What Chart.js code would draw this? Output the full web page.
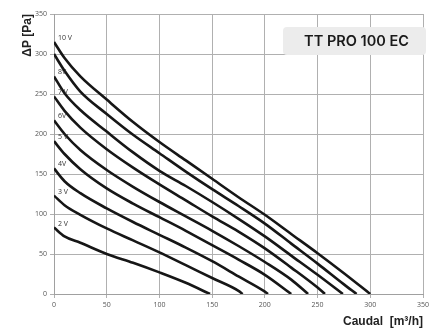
<!DOCTYPE html>
<html>
<head>
<meta charset="utf-8">
<script src="https://cdn.jsdelivr.net/npm/chart.js@4.4.1/dist/chart.umd.min.js"></script>
<style>
  html, body { margin: 0; padding: 0; background: #fff; }
  #wrap { width: 440px; height: 329px; }
</style>
</head>
<body>
<div id="wrap"><canvas id="curvas"></canvas></div>
<script>
// Caudal (m3/h) onde se leem as pressoes; cada curva usa os primeiros N passos + o seu fim
const flowSteps = [0, 10, 25, 50, 75, 100, 125, 150, 175, 200, 225, 250, 275];
const voltages = ['2V', '3V', '4V', '5V', '6V', '7V', '8V', '9V', '10V'];
const curveLabels = ['2 V', '3 V', '4V', '5 V', '6V', '7 V', '8V', '', '10 V'];
const endFlow = [148, 179, 203, 225, 241, 257, 274, 287, 300];

// Pressao estatica (Pa) em cada passo de caudal
const pa2V = [83, 72, 64, 50, 39, 27, 14];
const pa3V = [123, 111, 99, 82, 67, 52, 36, 20, 4];
const pa4V = [157, 141, 126, 107, 90, 74, 58, 41, 22, 3];
const pa5V = [191, 175, 156, 132, 113, 96, 79, 61, 43, 24];
const pa6V = [217, 200, 180, 155, 134, 115, 97, 79, 60, 40, 18];
const pa7V = [247, 229, 208, 181, 158, 137, 117, 97, 78, 57, 33, 8];
const pa8V = [272, 251, 230, 203, 177, 154, 135, 115, 94, 72, 48, 24];
const pa9V = [300, 279, 253, 225, 199, 176, 153, 131, 110, 88, 63, 38, 12];
const pa10V = [315, 295, 272, 243, 215, 190, 167, 144, 121, 99, 75, 51, 26];

const pressures = [pa2V, pa3V, pa4V, pa5V, pa6V, pa7V, pa8V, pa9V, pa10V];

const datasets = pressures.map((vals, i) => {
    const pts = vals.map((p, k) => ({ x: flowSteps[k], y: p }));
    pts.push({ x: endFlow[i], y: 0 });
    return {
        label: voltages[i],
        data: pts,
        showLine: true,
        borderColor: '#161616',
        borderWidth: 2.6,
        pointRadius: 0,
        cubicInterpolationMode: 'monotone',
        fill: false
    };
});

// etiquetas das tensoes junto ao inicio de cada curva
const voltLabels = {
    id: 'voltLabels',
    afterDatasetsDraw(chart) {
        const { ctx, scales: { x, y } } = chart;
        ctx.save();
        ctx.font = '7px "Open Sans", sans-serif';
        ctx.fillStyle = '#333';
        ctx.textAlign = 'left';
        ctx.textBaseline = 'middle';
        chart.data.datasets.forEach((ds, i) => {
            if (!curveLabels[i]) return;
            const p = ds.data[0];
            ctx.fillText(curveLabels[i], x.getPixelForValue(p.x) + 4, y.getPixelForValue(p.y) - 4);
        });
        ctx.restore();
    }
};

// caixa com o nome do modelo
const modelBox = {
    id: 'modelBox',
    afterDraw(chart) {
        const { ctx, chartArea } = chart;
        const w = 143, h = 28;
        const bx = chartArea.right + 3 - w, by = chartArea.top + 13;
        ctx.save();
        ctx.fillStyle = '#ececec';
        ctx.beginPath();
        ctx.roundRect(bx, by, w, h, 4);
        ctx.fill();
        ctx.fillStyle = '#1a1a1a';
        ctx.font = '600 14.5px Inter, sans-serif';
        ctx.textAlign = 'center';
        ctx.textBaseline = 'middle';
        ctx.fillText('TT PRO 100 EC', bx + w / 2 + 2, by + h / 2 + 1);
        ctx.restore();
    }
};

const tickFont = { family: '"Open Sans", sans-serif', size: 7 };
const titleFont = { family: '"Liberation Sans", Arial, sans-serif', size: 12, weight: 'bold' };

const config = {
    type: 'scatter',
    data: { datasets: datasets },
    options: {
        responsive: true,
        maintainAspectRatio: false,
        animation: false,
        layout: { padding: { top: 14, right: 17, left: 0, bottom: 0 } },
        plugins: {
            legend: { display: false },
            tooltip: { enabled: false }
        },
        scales: {
            x: {
                type: 'linear',
                min: 0,
                max: 350,
                ticks: { stepSize: 50, font: tickFont, color: '#555', maxRotation: 0 },
                grid: { color: '#b0b0b0', lineWidth: 1, tickLength: 4 },
                border: { color: '#a0a0a0' },
                title: {
                    display: true,
                    text: 'Caudal  [m³/h]',
                    align: 'end',
                    color: '#222',
                    font: titleFont,
                    padding: { top: 0, bottom: 0 }
                },
                afterFit: s => { s.height = 35; }
            },
            y: {
                min: 0,
                max: 350,
                ticks: { stepSize: 50, font: tickFont, color: '#555' },
                grid: { color: '#b0b0b0', lineWidth: 1, tickLength: 4 },
                border: { color: '#a0a0a0' },
                title: {
                    display: true,
                    text: 'ΔP [Pa]',
                    align: 'end',
                    color: '#222',
                    font: titleFont,
                    padding: { top: 20, bottom: 0 }
                },
                afterFit: s => { s.width = 54; }
            }
        }
    },
    plugins: [voltLabels, modelBox]
};

const ctx = document.getElementById('curvas').getContext('2d');
new Chart(ctx, config);
</script>
</body>
</html>
